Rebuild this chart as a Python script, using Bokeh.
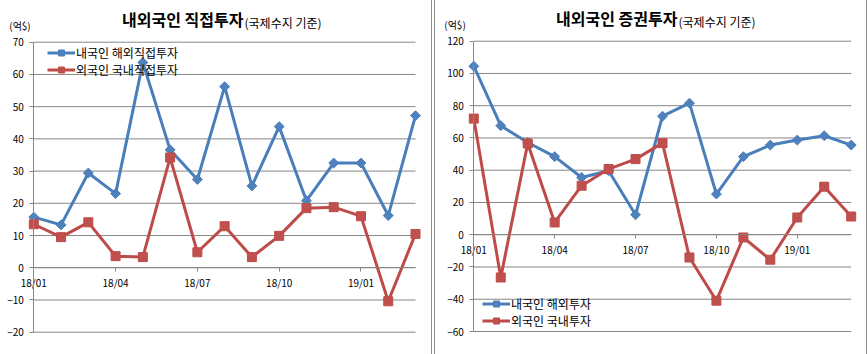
import numpy as np
from bokeh.plotting import figure
from bokeh.models import Range1d, FixedTicker, Label, Legend, LegendItem, Spacer
from bokeh.layouts import row
from bokeh.embed import file_html
from bokeh.resources import INLINE

# ---- data -------------------------------------------------------------
months = ["18/01", "18/02", "18/03", "18/04", "18/05", "18/06", "18/07", "18/08",
          "18/09", "18/10", "18/11", "18/12", "19/01", "19/02", "19/03"]
tick_labels = ["18/01", "18/04", "18/07", "18/10", "19/01"]

# 내외국인 직접투자 (억$)
fdi_outward = [15.7, 13.3, 29.4, 23.0, 63.7, 36.6, 27.4, 56.2, 25.4, 43.8, 20.8, 32.5, 32.5, 16.2, 47.2]
fdi_inward = [13.5, 9.5, 14.1, 3.6, 3.3, 34.2, 4.8, 12.9, 3.3, 9.9, 18.5, 18.8, 16.0, -10.4, 10.5]
fdi_ticks = [-20, -10, 0, 10, 20, 30, 40, 50, 60, 70]

# 내외국인 증권투자 (억$)
port_outward = [104.5, 67.6, 57.2, 48.4, 35.5, 39.7, 12.4, 73.5, 81.6, 25.2, 48.4, 55.6, 58.7, 61.4, 55.6]
port_inward = [72.0, -26.5, 56.6, 7.6, 30.4, 40.7, 46.9, 56.8, -14.1, -40.9, -1.7, -15.5, 10.7, 29.8, 11.3]
port_ticks = [-60, -40, -20, 0, 20, 40, 60, 80, 100, 120]

FONT = "Noto Sans CJK KR"
BLUE_L, BLUE_F = "#4A7EBB", "#4F81BD"
RED_L, RED_F = "#BE4B48", "#C0504D"
GRID = "#878787"
SEP = "#8c8c8c"

W, H = 431, 354


def panel(title, suffix, s1, s2, names, y_ticks, px_first, px_last, py_top, py_bot,
          legend_xy, title_pos, suffix_pos, unit_pos):
    n = len(months)
    x = list(range(n))
    cw = (px_last - px_first) / (n - 1)
    ppu = (py_bot - py_top) / (y_ticks[-1] - y_ticks[0])
    x_lo = -px_first / cw
    x_hi = (n - 1) + (W - px_last) / cw
    y_hi = y_ticks[-1] + py_top / ppu
    y_lo = y_ticks[0] - (H - py_bot) / ppu

    p = figure(frame_width=W, frame_height=H, min_border=0,
               x_range=Range1d(x_lo, x_hi), y_range=Range1d(y_lo, y_hi),
               output_backend="svg", toolbar_location=None, outline_line_color=None,
               background_fill_color="white", border_fill_color="white")
    p.xgrid.visible = False
    p.ygrid.visible = False

    # horizontal gridlines over the category span
    p.segment(x0=0, x1=n - 1, y0=y_ticks, y1=y_ticks, line_color=GRID, line_width=1)

    xa = p.xaxis[0]
    xa.fixed_location = 0
    xa.bounds = (0, n - 1)
    xa.ticker = FixedTicker(ticks=[months.index(t) for t in tick_labels])
    xa.major_label_overrides = {months.index(t): t for t in tick_labels}
    xa.major_tick_out = 4
    xa.major_tick_in = 0
    xa.minor_tick_out = 0
    xa.minor_tick_in = 0
    xa.major_label_standoff = 3
    xa.axis_line_color = GRID
    xa.major_tick_line_color = GRID
    xa.major_label_text_font = FONT
    xa.major_label_text_font_size = "10px"
    xa.major_label_text_color = "#000000"

    ya = p.yaxis[0]
    ya.fixed_location = 0
    ya.bounds = (y_ticks[0], y_ticks[-1])
    ya.ticker = FixedTicker(ticks=y_ticks)
    ya.major_tick_out = 4
    ya.major_tick_in = 0
    ya.minor_tick_out = 0
    ya.minor_tick_in = 0
    ya.major_label_standoff = 6
    ya.axis_line_color = GRID
    ya.major_tick_line_color = GRID
    ya.major_label_text_font = FONT
    ya.major_label_text_font_size = "10px"
    ya.major_label_text_color = "#000000"

    r1l = p.line(x, s1, line_color=BLUE_L, line_width=3)
    r1m = p.scatter(x, s1, marker="square", size=7, angle=np.pi / 4,
                    fill_color=BLUE_F, line_color=BLUE_L, line_width=1)
    r2l = p.line(x, s2, line_color=RED_L, line_width=3)
    r2m = p.scatter(x, s2, marker="square", size=9,
                    fill_color=RED_F, line_color=RED_L, line_width=1)

    leg = Legend(items=[LegendItem(label=names[0], renderers=[r1l, r1m]),
                        LegendItem(label=names[1], renderers=[r2l, r2m])],
                 location=legend_xy, padding=0, spacing=0, margin=0,
                 glyph_width=28, glyph_height=15, label_height=15, label_standoff=1,
                 border_line_color=None, background_fill_alpha=0,
                 label_text_font=FONT, label_text_font_size="12px",
                 label_text_color="#000000")
    p.add_layout(leg)

    def dx(px):
        return (px - px_first) / cw

    def dy(py):
        return y_ticks[-1] - (py - py_top) / ppu

    p.add_layout(Label(x=dx(title_pos[0]), y=dy(title_pos[1]), text=title,
                       text_align="right", text_baseline="middle",
                       text_font=FONT, text_font_size="16px", text_font_style="bold",
                       text_color="#000000"))
    p.add_layout(Label(x=dx(suffix_pos[0]), y=dy(suffix_pos[1]), text=suffix,
                       text_align="left", text_baseline="middle",
                       text_font=FONT, text_font_size="12px", text_color="#000000"))
    p.add_layout(Label(x=dx(unit_pos[0]), y=dy(unit_pos[1]), text="(억$)",
                       text_align="center", text_baseline="middle",
                       text_font=FONT, text_font_size="10px", text_color="#000000"))
    return p


left = panel("내외국인 직접투자", "(국제수지 기준)", fdi_outward, fdi_inward,
             ["내국인 해외직접투자", "외국인 국내직접투자"], fdi_ticks,
             px_first=33.3, px_last=415, py_top=41.7, py_bot=331.7,
             legend_xy=(47, 276), title_pos=(243, 18.5), suffix_pos=(244, 21.5),
             unit_pos=(19.5, 25))

right = panel("내외국인 증권투자", "(국제수지 기준)", port_outward, port_inward,
              ["내국인 해외투자", "외국인 국내투자"], port_ticks,
              px_first=38.3, px_last=415.7, py_top=40.7, py_bot=331,
              legend_xy=(47, 25), title_pos=(242, 17.5), suffix_pos=(243, 20.5),
              unit_pos=(19.5, 23.5))


def bar(w, color):
    return Spacer(width=w, height=H, styles={"background-color": color})


layout = row(left, bar(1, SEP), bar(2, "white"), bar(1, SEP), right, bar(1, SEP), spacing=0)

open("out.html", "w").write(file_html(layout, INLINE))
